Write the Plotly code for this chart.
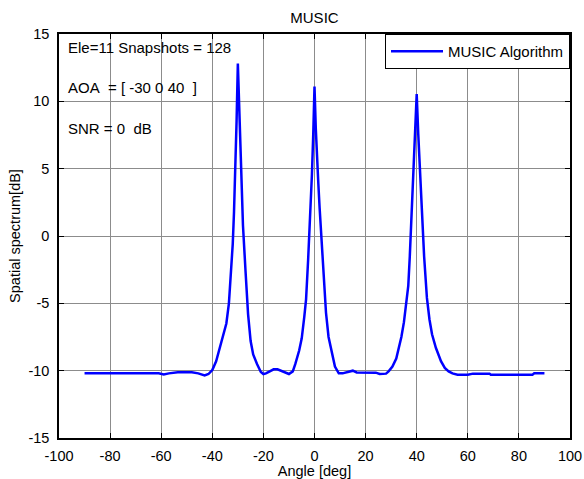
import plotly.graph_objects as go

# Angle (deg) and spatial spectrum (dB)
angle_deg = [-90, -61, -59, -57, -53.5, -48, -45.5, -43, -41.5, -40, -38.5, -37, -36,
             -34.5, -33.5, -32.5, -32, -31.5, -31, -30.5, -30, -29.5, -29, -28.5, -28,
             -27, -26, -25, -24, -22.5, -21, -20, -19, -17.5, -16, -14.5, -13, -11, -10,
             -8.5, -7.5, -6, -5, -4, -3.3, -2.5, -2, -1.5, -1, -0.5, 0, 0.5, 1, 1.5, 2,
             2.5, 3.5, 4.5, 5.5, 6.5, 8, 9.5, 11, 13, 15, 16.5, 20, 24, 25.5, 28, 29,
             30.5, 32, 33, 34, 35, 36, 36.7, 37.3, 38, 38.7, 39.3, 40, 40.6, 41.3, 42,
             42.9, 44, 45, 46, 47.5, 49.5, 51, 52.5, 54, 56, 60, 62, 68.5, 69, 85.3, 86, 90]
spectrum_db = [-10.2, -10.2, -10.28, -10.2, -10.12, -10.12, -10.2, -10.35, -10.25, -9.95,
               -9.3, -8.3, -7.6, -6.5, -5.0, -2.5, -0.6, 1.8, 4.5, 8.5, 12.8, 9.5, 6.2,
               3.4, 0.8, -2.6, -5.8, -7.8, -8.8, -9.5, -10.1, -10.25, -10.2, -10.05, -9.9,
               -9.9, -10.0, -10.15, -10.25, -10.05, -9.5, -8.5, -7.6, -6.0, -4.7, -1.8,
               0.0, 2.4, 4.6, 7.5, 11.1, 8.0, 5.4, 3.9, 2.1, 0.4, -2.8, -5.7, -7.5, -8.5,
               -9.7, -10.2, -10.2, -10.1, -10.0, -10.13, -10.15, -10.15, -10.25, -10.22,
               -10.05, -9.7, -9.1, -8.4, -7.5, -6.4, -5.0, -3.7, -1.5, 1.5, 5.1, 8.3,
               10.55, 7.6, 4.6, 1.4, -1.5, -4.6, -6.2, -7.3, -8.3, -9.3, -9.8, -10.05,
               -10.2, -10.3, -10.3, -10.22, -10.22, -10.3, -10.3, -10.2, -10.2]

x_ticks = [-100, -80, -60, -40, -20, 0, 20, 40, 60, 80, 100]
x_tick_labels = ["-100", "-80", "-60", "-40", "-20", "0", "20", "40", "60", "80", "100"]
y_ticks = [-15, -10, -5, 0, 5, 10, 15]
y_tick_labels = ["-15", "-10", "-5", "0", "5", "10", "15"]

FONT = "Liberation Sans, Arial, Helvetica, sans-serif"
NB = "\u00a0"

fig = go.Figure()
fig.add_trace(go.Scatter(x=angle_deg, y=spectrum_db, mode="lines",
                         name="MUSIC Algorithm",
                         line=dict(color="#0000ff", width=2.5)))

axis_common = dict(showline=True, linecolor="black", linewidth=1.5, mirror="ticks",
                   ticks="inside", ticklen=5, tickcolor="black", tickwidth=1,
                   showgrid=True, gridcolor="#8c8c8c", gridwidth=1, zeroline=False,
                   automargin=False,
                   tickfont=dict(family=FONT, size=14.5, color="black"))

fig.update_xaxes(range=[-100, 100], tickvals=x_ticks, ticktext=x_tick_labels,
                 ticklabelstandoff=4,
                 title=dict(text="Angle [deg]", standoff=4,
                            font=dict(family=FONT, size=14.5, color="black")),
                 **axis_common)
fig.update_yaxes(range=[-15, 15], tickvals=y_ticks, ticktext=y_tick_labels,
                 ticklabelstandoff=5,
                 title=dict(text="Spatial spectrum[dB]", standoff=4,
                            font=dict(family=FONT, size=14.5, color="black")),
                 **axis_common)

texts = ["Ele=11 Snapshots = 128",
         "AOA" + NB + NB + "= [ -30 0 40" + NB + NB + "]",
         "SNR = 0" + NB + NB + "dB"]
for t, yv in zip(texts, [14, 11, 8]):
    fig.add_annotation(x=-97.2, y=yv, xref="x", yref="y", text=t, showarrow=False,
                       xanchor="left", yanchor="middle",
                       font=dict(family=FONT, size=15, color="black"))

fig.update_layout(
    width=584, height=479,
    margin=dict(l=59, r=14, t=34, b=41, autoexpand=False),
    paper_bgcolor="white", plot_bgcolor="white",
    title=dict(text="MUSIC", x=0.5385, xanchor="center", y=1 - 17.7 / 479,
               yanchor="middle", automargin=False,
               font=dict(family=FONT, size=15, color="black")),
    showlegend=True,
    legend=dict(x=1, y=1, xanchor="right", yanchor="top", bgcolor="white",
                bordercolor="black", borderwidth=1, itemwidth=52,
                font=dict(family=FONT, size=15, color="black")),
)

fig.write_html("out.html", config={"displayModeBar": False},
               post_script="document.body.style.margin='0';document.body.style.overflow='hidden';")
